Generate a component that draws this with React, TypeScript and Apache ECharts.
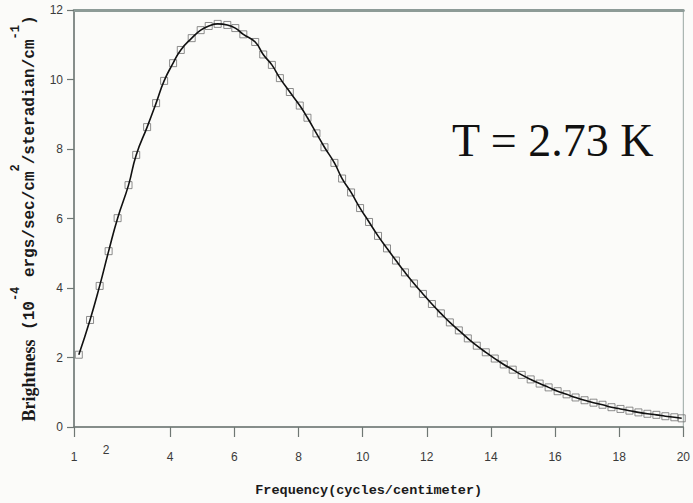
import React, { useEffect, useRef } from "react";
import * as echarts from "echarts";

// Frequency (cycles/centimeter) of each measured point
const freq = [
  1.15, 1.5, 1.8, 2.08, 2.36, 2.7, 2.94, 3.28, 3.56, 3.81, 4.09, 4.33,
  4.67, 4.95, 5.2, 5.48, 5.78, 6.03, 6.28, 6.65, 6.9, 7.17, 7.42, 7.73,
  8.04, 8.28, 8.56, 8.81, 9.12, 9.36, 9.64, 9.92, 10.2, 10.48, 10.76, 11.04,
  11.32, 11.6, 11.88, 12.16, 12.44, 12.72, 13.0, 13.28, 13.56, 13.84, 14.12, 14.4,
  14.68, 14.96, 15.24, 15.52, 15.8, 16.08, 16.36, 16.64, 16.92, 17.2, 17.48, 17.76,
  18.04, 18.32, 18.6, 18.88, 19.16, 19.44, 19.72, 19.95,
];

// Brightness (10^-4 ergs/sec/cm^2/steradian/cm^-1)
const brightness = [
  2.08, 3.08, 4.06, 5.06, 6.01, 6.96, 7.83, 8.63, 9.32, 9.96, 10.47, 10.85,
  11.19, 11.42, 11.54, 11.6, 11.57, 11.48, 11.3, 11.08, 10.72, 10.42, 10.04, 9.64,
  9.25, 8.9, 8.45, 8.05, 7.6, 7.15, 6.75, 6.3, 5.9, 5.5, 5.14, 4.79,
  4.45, 4.13, 3.83, 3.54, 3.27, 3.01, 2.78, 2.55, 2.34, 2.15, 1.97, 1.8,
  1.65, 1.5, 1.37, 1.25, 1.14, 1.03, 0.94, 0.85, 0.77, 0.7, 0.64, 0.57,
  0.52, 0.47, 0.42, 0.38, 0.35, 0.31, 0.28, 0.25,
];

const xLabelValues = [1, 2, 4, 6, 8, 10, 12, 14, 16, 18, 20];
const xTickValues = [1, 4, 6, 8, 10, 12, 14, 16, 18, 20];
const raisedLabel = 2;
const annotation = "T = 2.73 K";

export default function App() {
  const ref = useRef<HTMLDivElement>(null);

  useEffect(() => {
    if (!ref.current) return;
    const chart = echarts.init(ref.current, null, { renderer: "svg" });
    const points = freq.map((f, i) => [f, brightness[i]]);

    chart.setOption({
      animation: false,
      backgroundColor: "#fbfbf9",
      grid: {
        left: 74,
        right: 6,
        top: 10,
        bottom: 76,
        show: true,
        borderColor: "#98a6a2",
        borderWidth: 1,
        backgroundColor: "transparent",
      },
      xAxis: [
        {
          type: "value",
          min: 1,
          max: 20,
          position: "bottom",
          splitLine: { show: false },
          axisLine: { show: true, lineStyle: { color: "#6f7774", width: 1.5 } },
          axisTick: {
            show: true,
            customValues: xTickValues,
            length: 10,
            lineStyle: { color: "#6f7774", width: 1.2 },
          },
          axisLabel: {
            customValues: xLabelValues,
            margin: 17,
            color: "#3a3a3a",
            fontFamily: "Liberation Sans",
            fontSize: 12,
            formatter: (v: number) => (v === raisedLabel ? `{r|${v}}` : `{n|${v}}`),
            rich: {
              r: { fontSize: 12, color: "#3a3a3a", fontFamily: "Liberation Sans" },
              n: {
                fontSize: 12,
                color: "#3a3a3a",
                fontFamily: "Liberation Sans",
                padding: [7, 0, 0, 0],
              },
            },
          },
          name: "Frequency(cycles/centimeter)",
          nameLocation: "middle",
          nameGap: 56,
          nameTextStyle: {
            fontFamily: "Liberation Mono",
            fontWeight: "bold",
            fontSize: 13.5,
            color: "#1a1a1a",
            padding: [0, 20, 0, 0],
          },
        },
        {
          type: "value",
          min: 1,
          max: 20,
          position: "top",
          splitLine: { show: false },
          axisLine: { show: true, lineStyle: { color: "#8d9b97", width: 3 } },
          axisTick: { show: false },
          axisLabel: { show: false },
        },
      ],
      yAxis: {
        type: "value",
        min: 0,
        max: 12,
        interval: 2,
        splitLine: { show: false },
        axisLine: { show: true, lineStyle: { color: "#6f7774", width: 1.5 } },
        axisTick: { show: true, length: 7, lineStyle: { color: "#6f7774", width: 1.2 } },
        axisLabel: {
          margin: 11,
          color: "#3a3a3a",
          fontFamily: "Liberation Sans",
          fontSize: 12,
        },
        name:
          "{b|Brightness}{m| (10}{s|-4}{m| ergs/sec/cm}{s|2}{m|/steradian/cm}{s|-1}{m|)}",
        nameLocation: "middle",
        nameRotate: 90,
        nameGap: 36,
        nameTextStyle: {
          color: "#1a1a1a",
          rich: {
            b: {
              fontFamily: "Liberation Serif",
              fontWeight: "bold",
              fontSize: 18,
              color: "#1a1a1a",
              lineHeight: 28,
              verticalAlign: "bottom",
            },
            m: {
              fontFamily: "Liberation Mono",
              fontWeight: "bold",
              fontSize: 16,
              color: "#1a1a1a",
              lineHeight: 28,
              verticalAlign: "bottom",
            },
            s: {
              fontFamily: "Liberation Mono",
              fontWeight: "bold",
              fontSize: 12,
              color: "#1a1a1a",
              lineHeight: 28,
              verticalAlign: "top",
            },
          },
        },
      },
      graphic: [
        {
          type: "text",
          left: 452,
          top: 117,
          style: {
            text: annotation,
            fontFamily: "Liberation Serif",
            fontSize: 46,
            fill: "#111",
          },
        },
      ],
      series: [
        {
          type: "scatter",
          data: points,
          symbol: "rect",
          symbolSize: 7,
          itemStyle: { color: "transparent", borderColor: "#707070", borderWidth: 1 },
          z: 2,
        },
        {
          type: "line",
          data: points,
          smooth: true,
          showSymbol: false,
          lineStyle: { color: "#111", width: 1.6 },
          z: 3,
        },
      ],
    });

    return () => chart.dispose();
  }, []);

  return (
    <div
      ref={ref}
      style={{ position: "fixed", left: 0, top: 0, width: 693, height: 503 }}
    />
  );
}
